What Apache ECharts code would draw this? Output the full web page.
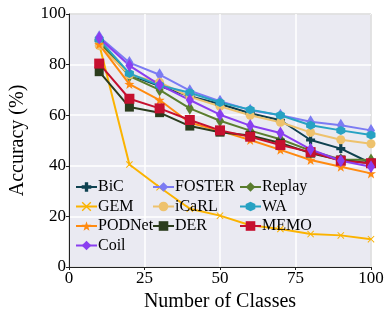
<!DOCTYPE html>
<html><head><meta charset="utf-8">
<script src="https://cdn.jsdelivr.net/npm/echarts@6/dist/echarts.min.js"></script>
<style>html,body{margin:0;padding:0;background:#fff}#c{width:390px;height:319px}</style>
</head><body><div id="c"></div>
<script>
const classes = [10,20,30,40,50,60,70,80,90,100];
const BiC    = [89.5, 76.0, 71.5, 67.5, 64.4, 60.8, 58.0, 50.2, 46.8, 41.0];
const FOSTER = [91.0, 80.8, 76.0, 69.7, 65.5, 62.0, 60.0, 57.4, 56.0, 54.0];
const Replay = [89.0, 75.5, 70.0, 62.7, 57.8, 53.9, 50.5, 46.0, 42.5, 42.3];
const GEM    = [88.0, 40.5, 31.5, 23.0, 20.3, 16.5, 15.0, 13.0, 12.5, 11.0];
const iCaRL  = [87.5, 76.0, 73.0, 67.3, 63.5, 60.0, 57.2, 53.2, 50.3, 48.7];
const WA     = [90.0, 76.5, 71.8, 68.9, 65.0, 62.2, 60.0, 56.0, 54.0, 52.2];
const PODNet = [88.0, 72.3, 66.0, 57.0, 53.8, 50.2, 46.3, 42.3, 39.6, 37.0];
const DER    = [77.2, 63.2, 61.0, 55.7, 53.3, 52.0, 49.0, 45.0, 42.3, 41.0];
const MEMO   = [80.4, 66.5, 62.7, 58.1, 54.0, 51.5, 48.2, 45.4, 42.0, 41.0];
const Coil   = [90.5, 79.6, 72.0, 66.0, 60.2, 55.9, 53.0, 46.5, 42.0, 39.6];
const xTicks = [0,25,50,75,100];
const yTicks = [0,20,40,60,80,100];

const P = {
  plus: 'path://M-0.35,-1H0.35V-0.35H1V0.35H0.35V1H-0.35V0.35H-1V-0.35H-0.35Z',
  cross: 'path://M-1,-0.8L-0.8,-1L0,-0.2L0.8,-1L1,-0.8L0.2,0L1,0.8L0.8,1L0,0.2L-0.8,1L-1,0.8L-0.2,0Z',
  star: 'path://M0,-1L0.235,-0.324L0.951,-0.309L0.38,0.124L0.588,0.809L0,0.4L-0.588,0.809L-0.38,0.124L-0.951,-0.309L-0.235,-0.324Z',
  thinDiamond: 'path://M0,-1L0.6,0L0,1L-0.6,0Z',
  hex: 'path://M0,-1L0.866,-0.5L0.866,0.5L0,1L-0.866,0.5L-0.866,-0.5Z'
};
const defs = [
  ['BiC', BiC, '#0e4150', P.plus, 9],
  ['FOSTER', FOSTER, '#7b7bf3', P.thinDiamond, [8,13]],
  ['Replay', Replay, '#5a7d2e', P.thinDiamond, [8,13]],
  ['GEM', GEM, '#fbb300', P.cross, 7],
  ['iCaRL', iCaRL, '#eec26d', 'circle', 9],
  ['WA', WA, '#27a2c3', P.hex, 9],
  ['PODNet', PODNet, '#ff8a10', P.star, 10],
  ['DER', DER, '#2b3c1d', 'rect', 9],
  ['MEMO', MEMO, '#c6102f', 'rect', 10],
  ['Coil', Coil, '#8a3ef0', P.thinDiamond, [8,13]]
];
const font = 'Liberation Serif';
const series = defs.map(d => ({
  name: d[0], type: 'line', data: classes.map((c,i)=>[c,d[1][i]]),
  symbol: d[3], symbolSize: d[4], showSymbol: true,
  lineStyle: {color: d[2], width: 2}, itemStyle: {color: d[2]},
  animation: false, z: 3
}));
const legendBase = {orient: 'vertical', top: 179, itemWidth: 21, itemHeight: 12, itemGap: 3.5,
  textStyle: {fontFamily: font, fontSize: 16, color: '#000', padding: [0,0,0,-4]}, padding: 0};
const chart = echarts.init(document.getElementById('c'));
chart.setOption({
  animation: false,
  grid: {left: 63, right: 19, top: 14, bottom: 52, show: true, backgroundColor: '#eaeaf2', borderColor: '#222', borderWidth: 1},
  legend: [
    Object.assign({}, legendBase, {left: 75, data: ['BiC','GEM','PODNet','Coil']}),
    Object.assign({}, legendBase, {left: 152, data: ['FOSTER','iCaRL','DER']}),
    Object.assign({}, legendBase, {left: 239, data: ['Replay','WA','MEMO']})
  ],
  xAxis: {type: 'value', min: xTicks[0], max: xTicks[xTicks.length-1], interval: 25,
    name: 'Number of Classes', nameLocation: 'middle', nameGap: 24,
    nameTextStyle: {fontFamily: font, fontSize: 20, color: '#000'},
    axisLine: {show: true, lineStyle: {color: '#222', width: 1}},
    axisTick: {show: true, length: 3, lineStyle: {color: '#222'}},
    axisLabel: {fontFamily: font, fontSize: 17, color: '#000', margin: 3},
    splitLine: {show: true, lineStyle: {color: '#fff', width: 1.5}}},
  yAxis: {type: 'value', min: yTicks[0], max: yTicks[yTicks.length-1], interval: 20,
    name: 'Accuracy (%)', nameLocation: 'middle', nameGap: 41,
    nameTextStyle: {fontFamily: font, fontSize: 20, color: '#000'},
    axisLine: {show: true, lineStyle: {color: '#222', width: 1}},
    axisTick: {show: true, length: 3, lineStyle: {color: '#222'}},
    axisLabel: {fontFamily: font, fontSize: 17, color: '#000', margin: 3},
    splitLine: {show: true, lineStyle: {color: '#fff', width: 1.5}}},
  series: series
});
</script></body></html>
